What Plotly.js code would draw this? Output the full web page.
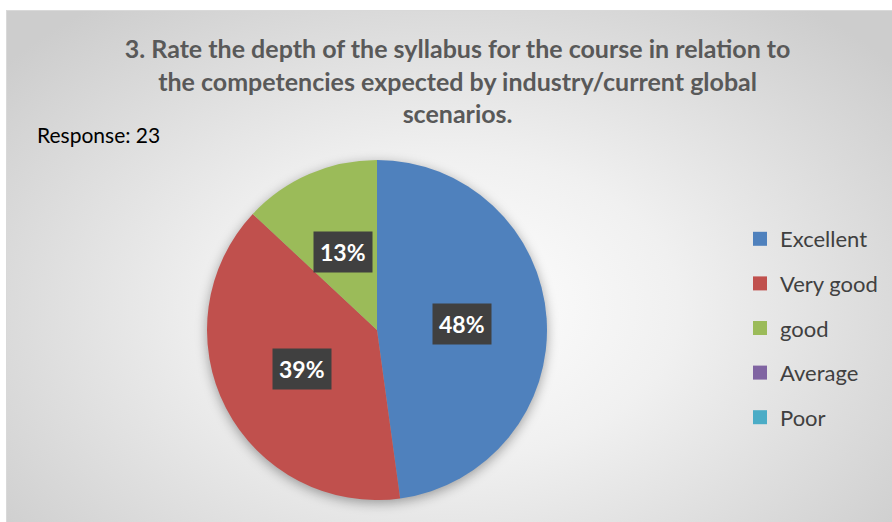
<!DOCTYPE html>
<html>
<head>
<meta charset="utf-8">
<script src="https://cdn.plot.ly/plotly-3.0.1.min.js"></script>
<style>
  html, body { margin: 0; padding: 0; background: #ffffff; }
  #wrap { position: relative; width: 892px; height: 522px; overflow: hidden; }
  #bg { position: absolute; left: 6px; top: 10px; width: 886px; height: 512px;
        background: radial-gradient(ellipse 65% 75% at 50% 58%, #ffffff 0%, #f0f0f0 40%, #cdcdcd 100%);
        border-top: 1px solid #d9d9d9; border-left: 1px solid #d9d9d9; box-sizing: border-box; }
  #chart { position: absolute; left: 0; top: 0; width: 892px; height: 522px; }
  #chart .pielayer { filter: drop-shadow(0px 3px 6px rgba(0,0,0,0.35)); }
</style>
</head>
<body>
<div id="wrap">
  <div id="bg"></div>
  <div id="chart"></div>
</div>
<script>
const categories = ["Excellent", "Very good", "good", "Average", "Poor"];
const responses = [11, 9, 3, 0, 0];
const totalResponses = 23;
const colors = ["#4F81BD", "#C0504D", "#9BBB59", "#8064A2", "#4BACC6"];
const titleText = "3. Rate the depth of the syllabus for the course in relation to<br>the competencies expected by industry/current global<br>scenarios.";
const responseLabel = "Response: " + totalResponses;

const W = 892, H = 522;
const pieCx = 377, pieCy = 330, pieR = 170;
const domX = [(pieCx - pieR) / W, (pieCx + pieR) / W];
const domY = [(H - pieCy - pieR) / H, (H - pieCy + pieR) / H];

const pie = {
  type: "pie",
  labels: categories,
  values: responses,
  sort: false,
  direction: "clockwise",
  rotation: 0,
  marker: { colors: colors, line: { width: 0 } },
  textinfo: "none",
  hoverinfo: "label+percent",
  showlegend: false,
  domain: { x: domX, y: domY }
};

// legend entries (one per category) so the legend spacing can match
const legendTraces = categories.map((c, i) => ({
  type: "scatter",
  x: [null], y: [null],
  mode: "markers",
  name: c,
  legendgroup: "g" + i,
  marker: { symbol: "square", size: 14, color: colors[i] },
  showlegend: true,
  hoverinfo: "skip"
}));

// percentage labels placed at half radius along each slice's mid angle
const total = responses.reduce((a, b) => a + b, 0);
const annotations = [];
let cum = 0;
responses.forEach((v, i) => {
  const frac = v / total;
  const mid = (cum + frac / 2) * 2 * Math.PI;
  cum += frac;
  if (v <= 0) return;
  const px = pieCx + 0.5 * pieR * Math.sin(mid);
  const py = pieCy - 0.5 * pieR * Math.cos(mid);
  annotations.push({
    x: px / W, y: 1 - py / H, xref: "paper", yref: "paper",
    text: "<b>" + Math.round(frac * 100) + "%</b>",
    showarrow: false,
    font: { family: "Lato, 'Open Sans', sans-serif", size: 23, color: "#ffffff" },
    bgcolor: "#404040",
    borderpad: 6,
    xanchor: "center", yanchor: "middle"
  });
});
annotations.push({
  x: 35 / W, y: 1 - 135 / H, xref: "paper", yref: "paper",
  text: responseLabel, showarrow: false,
  font: { family: "Lato, 'Open Sans', sans-serif", size: 21, color: "#000000" },
  xanchor: "left", yanchor: "middle"
});

const layout = {
  width: W, height: H,
  margin: { l: 0, r: 0, t: 0, b: 0 },
  paper_bgcolor: "rgba(0,0,0,0)",
  plot_bgcolor: "rgba(0,0,0,0)",
  title: {
    text: "<b>" + titleText + "</b>",
    font: { family: "Lato, 'Open Sans', sans-serif", size: 25, color: "#595959" },
    x: 0.513, xanchor: "center",
    y: 1 - 58 / H, yanchor: "top", yref: "container"
  },
  xaxis: { visible: false, domain: [0, 0.01] },
  yaxis: { visible: false, domain: [0, 0.01] },
  showlegend: true,
  legend: {
    x: 740 / W, y: 1 - 218 / H, xanchor: "left", yanchor: "top",
    bgcolor: "rgba(0,0,0,0)",
    font: { family: "Lato, 'Open Sans', sans-serif", size: 22, color: "#404040" },
    tracegroupgap: 13,
    traceorder: "grouped",
    itemclick: false, itemdoubleclick: false
  },
  annotations: annotations
};

Plotly.newPlot("chart", [pie].concat(legendTraces), layout, { displayModeBar: false, staticPlot: true });
</script>
</body>
</html>
